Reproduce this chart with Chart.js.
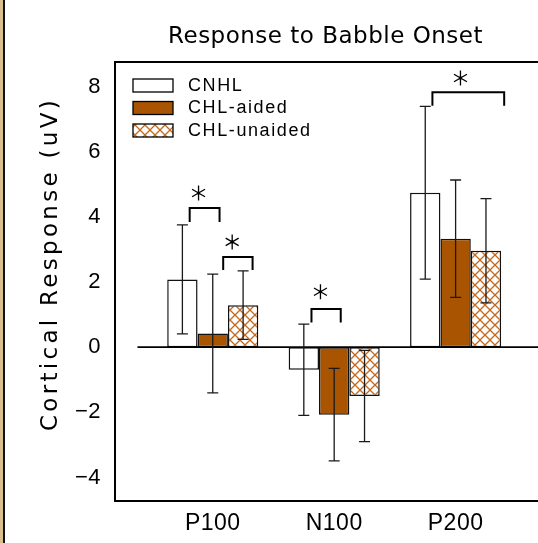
<!DOCTYPE html>
<html>
<head>
<meta charset="utf-8">
<script src="https://cdn.jsdelivr.net/npm/chart.js@4.4.0/dist/chart.umd.min.js"></script>
<style>
  html, body { margin: 0; padding: 0; background: #fff; overflow: hidden; }
  #wrap { position: relative; width: 538px; height: 543px; overflow: hidden; }
  #wrap canvas { position: absolute; left: 0; top: 0; }
  .edge1 { position: absolute; left: 0; top: 0; width: 3px; height: 543px; background: #d8bf8c; }
  .edge2 { position: absolute; left: 3px; top: 0; width: 2px; height: 543px; background: #111; }
</style>
</head>
<body>
<div id="wrap">
  <canvas id="chart" width="560" height="543"></canvas>
  <div class="edge1"></div><div class="edge2"></div>
</div>
<script>
const categories = ['P100', 'N100', 'P200'];
const seriesNames = ['CNHL', 'CHL-aided', 'CHL-unaided'];
const cnhl = [2.08, -0.69, 4.74];
const cnhlErr = [1.67, 1.40, 2.65];
const aided = [0.42, -2.07, 3.33];
const aidedErr = [1.82, 1.42, 1.80];
const unaided = [1.29, -1.50, 2.96];
const unaidedErr = [1.05, 1.40, 1.60];
const yTicks = [-4, -2, 0, 2, 4, 6, 8];

// significance brackets (data units): x span, top of bracket, end of legs, star position
const sigBrackets = [
  { x0: -0.19, x1: 0.056, top: 4.27, leg: 3.84, starX: -0.117, starY: 4.73 },
  { x0: 0.086, x1: 0.328, top: 2.77, leg: 2.37, starX: 0.16, starY: 3.23 },
  { x0: 0.813, x1: 1.054, top: 1.17, leg: 0.76, starX: 0.887, starY: 1.70 },
  { x0: 1.809, x1: 2.40, top: 7.82, leg: 7.41, starX: 2.04, starY: 8.26 }
];

function makeHatch() {
  const c = document.createElement('canvas');
  c.width = 10; c.height = 10;
  const g = c.getContext('2d');
  g.fillStyle = '#fff';
  g.fillRect(0, 0, 10, 10);
  g.strokeStyle = '#c4681c';
  g.lineWidth = 1.3;
  g.beginPath();
  g.moveTo(0, 0); g.lineTo(10, 10);
  g.moveTo(10, 0); g.lineTo(0, 10);
  g.stroke();
  return g.createPattern(c, 'repeat');
}

const ctx0 = document.getElementById('chart').getContext('2d');
const hatch = makeHatch();

function toPoints(vals) {
  return vals.map((v, i) => ({ x: i, y: v }));
}

function drawStar(ctx, cx, cy, r) {
  ctx.beginPath();
  for (let k = 0; k < 3; k++) {
    const ang = Math.PI / 2 + k * Math.PI / 3;
    ctx.moveTo(cx + r * Math.cos(ang), cy - r * Math.sin(ang));
    ctx.lineTo(cx - r * Math.cos(ang), cy + r * Math.sin(ang));
  }
  ctx.stroke();
  ctx.beginPath();
  ctx.arc(cx, cy, 1.6, 0, Math.PI * 2);
  ctx.fill();
}

const decor = {
  id: 'decor',
  beforeDraw(chart) {
    chart.ctx.letterSpacing = '0.5px';
  },
  afterDatasetsDraw(chart) {
    const { ctx, chartArea: a, scales: { x, y } } = chart;
    ctx.save();
    ctx.strokeStyle = '#000';
    ctx.fillStyle = '#000';

    // zero line
    const y0 = y.getPixelForValue(0);
    ctx.lineWidth = 1.6;
    ctx.beginPath();
    ctx.moveTo(x.getPixelForValue(-0.62), y0);
    ctx.lineTo(a.right, y0);
    ctx.stroke();

    // error bars
    ctx.lineWidth = 1.3;
    ctx.strokeStyle = '#1a1a1a';
    chart.data.datasets.forEach((ds, di) => {
      const meta = chart.getDatasetMeta(di);
      meta.data.forEach((bar, i) => {
        const v = ds.data[i].y, e = ds.errors[i];
        const cx = bar.x;
        const yt = y.getPixelForValue(v + e), yb = y.getPixelForValue(v - e);
        ctx.beginPath();
        ctx.moveTo(cx, yt); ctx.lineTo(cx, yb);
        ctx.moveTo(cx - 5.5, yt); ctx.lineTo(cx + 5.5, yt);
        ctx.moveTo(cx - 5.5, yb); ctx.lineTo(cx + 5.5, yb);
        ctx.stroke();
      });
    });

    // significance brackets
    ctx.strokeStyle = '#000';
    sigBrackets.forEach(b => {
      const xa = x.getPixelForValue(b.x0), xb = x.getPixelForValue(b.x1);
      const yt = y.getPixelForValue(b.top), yl = y.getPixelForValue(b.leg);
      ctx.lineWidth = 2;
      ctx.beginPath();
      ctx.moveTo(xa, yl); ctx.lineTo(xa, yt); ctx.lineTo(xb, yt); ctx.lineTo(xb, yl);
      ctx.stroke();
      ctx.lineWidth = 1.3;
      drawStar(ctx, x.getPixelForValue(b.starX), y.getPixelForValue(b.starY), 7.5);
    });

    // frame
    ctx.lineWidth = 2;
    ctx.strokeRect(a.left, a.top, a.width, a.height);

    // legend
    ctx.font = '18px "Liberation Sans"';
    ctx.letterSpacing = '1.6px';
    ctx.textBaseline = 'middle';
    ctx.textAlign = 'left';
    chart.data.datasets.forEach((ds, i) => {
      const bx = a.left + 18, by = a.top + 17 + i * 22.5;
      ctx.fillStyle = ds.backgroundColor;
      ctx.fillRect(bx, by, 40, 13);
      ctx.lineWidth = 1.3;
      ctx.strokeStyle = '#000';
      ctx.strokeRect(bx, by, 40, 13);
      ctx.fillStyle = '#000';
      ctx.fillText(ds.label, bx + 55, by + 7);
    });

    // title
    ctx.font = '23px "DejaVu Sans"';
    ctx.letterSpacing = '0.5px';
    ctx.textAlign = 'center';
    ctx.fillText('Response to Babble Onset', (a.left + a.right) / 2 - 2, 37);

    // y axis title
    ctx.font = '23px "DejaVu Sans"';
    ctx.letterSpacing = '3.3px';
    ctx.translate(51, 264);
    ctx.rotate(-Math.PI / 2);
    ctx.fillText('Cortical Response (uV)', 0, 0);
    ctx.restore();
  }
};

new Chart(ctx0, {
  type: 'bar',
  data: {
    datasets: [
      { label: seriesNames[0], data: toPoints(cnhl), errors: cnhlErr, backgroundColor: '#ffffff' },
      { label: seriesNames[1], data: toPoints(aided), errors: aidedErr, backgroundColor: '#a85400' },
      { label: seriesNames[2], data: toPoints(unaided), errors: unaidedErr, backgroundColor: hatch }
    ]
  },
  options: {
    responsive: false,
    animation: false,
    events: [],
    layout: { padding: { left: 0, top: 62, right: 20, bottom: 0 } },
    datasets: {
      bar: {
        categoryPercentage: 0.75,
        barPercentage: 1.0,
        borderColor: '#111',
        borderWidth: 1.5,
        borderSkipped: false
      }
    },
    plugins: {
      legend: { display: false },
      tooltip: { enabled: false },
      title: { display: false }
    },
    scales: {
      x: {
        type: 'linear',
        min: -0.805,
        max: 2.695,
        offset: false,
        grid: { display: false, drawTicks: false },
        border: { display: false },
        afterBuildTicks: s => { s.ticks = categories.map((c, i) => ({ value: i })); },
        afterFit: s => { s.height = 42; },
        ticks: {
          color: '#000',
          font: { family: 'Liberation Sans', size: 23 },
          padding: 9,
          maxRotation: 0,
          autoSkip: false,
          callback: v => categories[v]
        }
      },
      y: {
        min: -4.72,
        max: 8.75,
        grid: { display: false, drawTicks: false },
        border: { display: false },
        afterBuildTicks: s => { s.ticks = yTicks.map(v => ({ value: v })); },
        afterFit: s => { s.width = 115; },
        ticks: {
          color: '#000',
          font: { family: 'Liberation Sans', size: 22 },
          padding: 14,
          callback: v => (v < 0 ? '\u2212' + Math.abs(v) : String(v))
        }
      }
    }
  },
  plugins: [decor]
});
</script>
</body>
</html>
